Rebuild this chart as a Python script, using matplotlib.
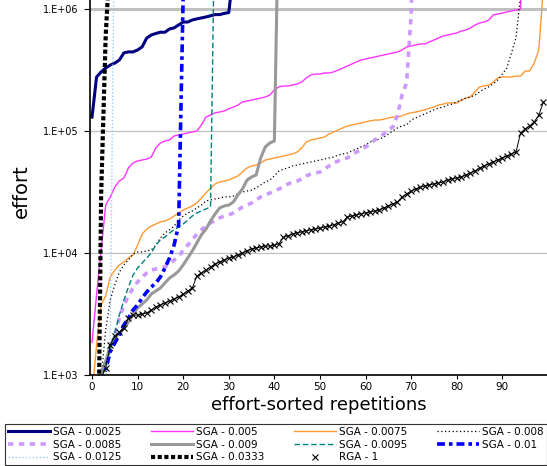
import numpy as np
import matplotlib
matplotlib.use("Agg")
import matplotlib.pyplot as plt
from matplotlib.lines import Line2D

# effort per repetition, sorted; a huge last value means the run went off the top
sga_0025 = [1.30e5, 2.77e5, 3.05e5, 3.28e5, 3.47e5, 3.60e5, 3.82e5, 4.37e5, 4.45e5, 4.45e5,
            4.61e5, 4.90e5, 5.78e5, 6.12e5, 6.30e5, 6.45e5, 6.45e5, 6.86e5, 7.00e5, 7.40e5,
            7.82e5, 7.82e5, 8.13e5, 8.30e5, 8.45e5, 8.60e5, 8.80e5, 9.00e5, 9.00e5, 9.20e5,
            9.35e5, 2.0e6]

sga_005 = [1.86e3, 4.53e3, 1.06e4, 2.47e4, 2.88e4, 3.47e4, 3.89e4, 4.12e4, 4.98e4, 5.47e4,
           5.68e4, 5.78e4, 5.89e4, 6.12e4, 7.26e4, 7.98e4, 8.28e4, 8.44e4, 9.10e4, 9.27e4,
           9.45e4, 9.63e4, 9.82e4, 1.00e5, 1.12e5, 1.30e5, 1.35e5, 1.41e5, 1.43e5, 1.46e5,
           1.52e5, 1.57e5, 1.63e5, 1.73e5, 1.76e5, 1.79e5, 1.83e5, 1.86e5, 1.90e5, 1.97e5,
           2.17e5, 2.30e5, 2.34e5, 2.34e5, 2.38e5, 2.43e5, 2.52e5, 2.72e5, 2.88e5, 2.93e5,
           2.93e5, 2.99e5, 2.99e5, 3.05e5, 3.16e5, 3.28e5, 3.41e5, 3.54e5, 3.68e5, 3.82e5,
           3.89e5, 3.97e5, 4.04e5, 4.12e5, 4.20e5, 4.28e5, 4.36e5, 4.44e5, 4.61e5, 4.88e5,
           4.98e5, 5.07e5, 5.17e5, 5.17e5, 5.37e5, 5.57e5, 5.79e5, 6.01e5, 6.12e5, 6.24e5,
           6.36e5, 6.60e5, 6.73e5, 6.99e5, 7.39e5, 7.68e5, 7.82e5, 8.12e5, 8.93e5, 9.10e5,
           9.27e5, 9.45e5, 9.63e5, 9.82e5, 1.0e6, 1e8]

sga_0075 = [6.85e2, 1.76e3, 3.75e3, 4.44e3, 6.36e3, 7.26e3, 7.98e3, 8.44e3, 9.10e3, 9.63e3,
            1.16e4, 1.43e4, 1.57e4, 1.66e4, 1.73e4, 1.80e4, 1.83e4, 1.90e4, 2.01e4, 2.13e4,
            2.25e4, 2.34e4, 2.43e4, 2.57e4, 2.82e4, 3.10e4, 3.41e4, 3.68e4, 3.82e4, 3.89e4,
            3.96e4, 4.12e4, 4.28e4, 4.61e4, 4.98e4, 5.17e4, 5.26e4, 5.47e4, 5.78e4, 5.89e4,
            6.01e4, 6.12e4, 6.24e4, 6.36e4, 6.48e4, 6.73e4, 7.26e4, 8.13e4, 8.44e4, 8.60e4,
            8.77e4, 8.93e4, 9.45e4, 9.82e4, 1.02e5, 1.06e5, 1.10e5, 1.12e5, 1.14e5, 1.16e5,
            1.19e5, 1.21e5, 1.23e5, 1.23e5, 1.25e5, 1.28e5, 1.30e5, 1.30e5, 1.33e5, 1.38e5,
            1.41e5, 1.43e5, 1.46e5, 1.49e5, 1.54e5, 1.57e5, 1.63e5, 1.66e5, 1.70e5, 1.70e5,
            1.70e5, 1.79e5, 1.86e5, 1.90e5, 2.09e5, 2.30e5, 2.34e5, 2.38e5, 2.52e5, 2.72e5,
            2.77e5, 2.77e5, 2.77e5, 2.82e5, 2.82e5, 3.10e5, 3.10e5, 3.61e5, 4.61e5, 1.5e6]

sga_008 = [2.5e2, 4.28e2, 9.45e2, 2.34e3, 4.12e3, 5.47e3, 6.98e3, 7.98e3, 8.77e3, 9.82e3,
           1.02e4, 1.02e4, 1.04e4, 1.06e4, 1.16e4, 1.33e4, 1.46e4, 1.55e4, 1.66e4, 1.86e4,
           2.01e4, 2.13e4, 2.21e4, 2.34e4, 2.47e4, 2.67e4, 2.72e4, 2.77e4, 2.82e4, 2.88e4,
           2.88e4, 2.93e4, 3.05e4, 3.16e4, 3.22e4, 3.28e4, 3.41e4, 3.61e4, 3.82e4, 3.96e4,
           4.28e4, 4.70e4, 4.88e4, 4.98e4, 5.17e4, 5.26e4, 5.37e4, 5.47e4, 5.57e4, 5.68e4,
           5.78e4, 5.89e4, 6.01e4, 6.12e4, 6.36e4, 6.48e4, 6.60e4, 6.86e4, 7.12e4, 7.39e4,
           7.68e4, 8.13e4, 8.28e4, 8.60e4, 8.93e4, 9.45e4, 1.00e5, 1.06e5, 1.10e5, 1.12e5,
           1.23e5, 1.28e5, 1.33e5, 1.38e5, 1.43e5, 1.49e5, 1.54e5, 1.57e5, 1.63e5, 1.66e5,
           1.73e5, 1.79e5, 1.86e5, 1.90e5, 1.97e5, 2.09e5, 2.21e5, 2.30e5, 2.43e5, 2.62e5,
           2.93e5, 3.28e5, 4.36e5, 5.78e5, 1.3e6]

sga_0085 = [3e2, 6e2, 1.06e3, 1.28e3, 1.60e3, 2.13e3, 2.93e3, 3.75e3, 4.44e3, 5.17e3,
            5.78e3, 6.36e3, 6.86e3, 7.26e3, 7.39e3, 7.54e3, 7.68e3, 8.13e3, 8.77e3, 9.27e3,
            1.06e4, 1.16e4, 1.28e4, 1.43e4, 1.55e4, 1.66e4, 1.76e4, 1.86e4, 1.94e4, 2.01e4,
            2.05e4, 2.13e4, 2.25e4, 2.38e4, 2.47e4, 2.57e4, 2.72e4, 2.88e4, 2.99e4, 3.10e4,
            3.22e4, 3.35e4, 3.47e4, 3.68e4, 3.82e4, 3.89e4, 4.04e4, 4.28e4, 4.44e4, 4.53e4,
            4.61e4, 4.88e4, 5.17e4, 5.47e4, 5.68e4, 5.89e4, 6.01e4, 6.36e4, 6.73e4, 6.98e4,
            7.39e4, 7.82e4, 8.44e4, 8.93e4, 9.45e4, 1.02e5, 1.08e5, 1.35e5, 1.97e5, 2.47e5,
            8.93e5, 1e8]

sga_009 = [5e2, 6.85e2, 1.06e3, 1.28e3, 1.76e3, 2.05e3, 2.17e3, 2.43e3, 2.72e3, 3.16e3,
           3.54e3, 3.82e3, 4.12e3, 4.61e3, 4.88e3, 5.17e3, 5.68e3, 6.24e3, 6.60e3, 7.12e3,
           7.98e3, 9.10e3, 1.04e4, 1.21e4, 1.41e4, 1.57e4, 1.83e4, 2.09e4, 2.34e4, 2.43e4,
           2.47e4, 2.62e4, 2.99e4, 3.35e4, 3.96e4, 4.20e4, 4.36e4, 6.01e4, 7.39e4, 7.98e4,
           8.28e4, 1e7]

sga_0095 = [3e2, 6e2, 9.10e2, 1.21e3, 1.60e3, 2.21e3, 3.10e3, 4.12e3, 5.26e3, 6.60e3,
            7.54e3, 8.28e3, 9.10e3, 1.00e4, 1.16e4, 1.28e4, 1.35e4, 1.46e4, 1.55e4, 1.63e4,
            1.73e4, 1.86e4, 2.01e4, 2.13e4, 2.21e4, 2.30e4, 2.38e4, 1e7]

sga_01 = [2e2, 4e2, 7.98e2, 1.10e3, 1.55e3, 1.83e3, 2.13e3, 2.57e3, 2.93e3, 3.41e3,
          3.75e3, 4.28e3, 4.79e3, 5.26e3, 5.68e3, 6.36e3, 7.54e3, 9.10e3, 1.16e4, 1.70e4,
          1.3e6]

sga_0125 = [3e2, 5e2, 8e2, 1.0e3, 2.13e3, 1e7]

sga_0333 = [10, 10, 3.0e4, 6.0e5, 3.0e6]

rga_1 = [4.28e2, 6.24e2, 9.45e2, 1.14e3, 1.76e3, 2.09e3, 2.25e3, 2.43e3, 2.93e3, 3.10e3,
         3.10e3, 3.16e3, 3.22e3, 3.41e3, 3.61e3, 3.75e3, 3.89e3, 4.04e3, 4.20e3, 4.36e3,
         4.61e3, 4.88e3, 5.17e3, 6.48e3, 6.86e3, 7.26e3, 7.68e3, 8.13e3, 8.44e3, 8.77e3,
         9.10e3, 9.27e3, 9.63e3, 1.00e4, 1.04e4, 1.08e4, 1.10e4, 1.12e4, 1.14e4, 1.14e4,
         1.16e4, 1.19e4, 1.35e4, 1.38e4, 1.43e4, 1.46e4, 1.49e4, 1.52e4, 1.55e4, 1.57e4,
         1.60e4, 1.63e4, 1.66e4, 1.70e4, 1.76e4, 1.80e4, 1.97e4, 2.01e4, 2.05e4, 2.09e4,
         2.13e4, 2.17e4, 2.21e4, 2.25e4, 2.34e4, 2.43e4, 2.52e4, 2.62e4, 2.88e4, 3.05e4,
         3.22e4, 3.35e4, 3.47e4, 3.54e4, 3.61e4, 3.68e4, 3.75e4, 3.82e4, 3.96e4, 4.04e4,
         4.12e4, 4.20e4, 4.36e4, 4.53e4, 4.70e4, 4.98e4, 5.17e4, 5.37e4, 5.57e4, 5.78e4,
         6.01e4, 6.24e4, 6.48e4, 6.73e4, 9.63e4, 1.04e5, 1.10e5, 1.19e5, 1.35e5, 1.73e5]

y_ticks = [1e3, 1e4, 1e5, 1e6]
y_tick_labels = ["1.E+03", "1.E+04", "1.E+05", "1.E+06"]
x_ticks = [0, 10, 20, 30, 40, 50, 60, 70, 80, 90]

fig = plt.figure(figsize=(5.47, 4.66), dpi=100)
ax = fig.add_axes([90 / 547, 91 / 466, 457 / 547, 375 / 466])

# series, label, style
series = [
    (sga_0025, "SGA - 0.0025", dict(color="#000080", lw=2.2)),
    (sga_005, "SGA - 0.005", dict(color="#ff33ff", lw=1.0)),
    (sga_0075, "SGA - 0.0075", dict(color="#ff9933", lw=1.0)),
    (sga_008, "SGA - 0.008", dict(color="black", lw=0.9, ls=(0, (1, 2)))),
    (sga_0085, "SGA - 0.0085", dict(color="#cc99ff", lw=2.6, ls=(0, (1.5, 1.5)))),
    (sga_009, "SGA - 0.009", dict(color="#999999", lw=2.2)),
    (sga_0095, "SGA - 0.0095", dict(color="#008080", lw=1.0, ls=(0, (4, 2)))),
    (sga_01, "SGA - 0.01", dict(color="#0000ff", lw=2.6, ls=(0, (2.2, 1.1, 1, 1.1)))),
    (sga_0125, "SGA - 0.0125", dict(color="#99ccff", lw=1.0, ls=(0, (1, 1.5)))),
    (sga_0333, "SGA - 0.0333", dict(color="black", lw=3.0, ls=(0, (1, 0.6)))),
]

handles = {}
for vals, name, style in series:
    line, = ax.plot(np.arange(len(vals)), vals, **style)
    handles[name] = line

ax.plot(np.arange(len(rga_1)), rga_1, color="black", lw=0.7,
        marker="x", markersize=4, markeredgewidth=0.8)
handles["RGA - 1"] = Line2D([], [], color="black", ls="none", marker="x",
                            markersize=4, markeredgewidth=0.8)

ax.set_yscale("log")
ax.set_ylim(1e3, 1.185e6)
ax.set_xlim(-0.44, 99.8)

# grid lines
for g in [1e4, 1e5]:
    ax.axhline(g, color="#c0c0c0", lw=0.9, zorder=0)
ax.axhline(1e6, color="#c0c0c0", lw=2.2, zorder=0)

ax.set_yticks(y_ticks)
ax.set_yticklabels(y_tick_labels)
ax.yaxis.set_minor_locator(matplotlib.ticker.NullLocator())
ax.set_xticks(x_ticks)
ax.tick_params(axis="y", length=4, width=0.8, pad=4, labelsize=7)
ax.tick_params(axis="x", length=3, width=0.8, pad=2, labelsize=7.5)

for s in ["top", "right"]:
    ax.spines[s].set_visible(False)
ax.spines["left"].set_linewidth(1.2)
ax.spines["bottom"].set_linewidth(1.2)

ax.set_xlabel("effort-sorted repetitions", fontsize=13)
ax.xaxis.set_label_coords(0.5, -0.055)
ax.set_ylabel("effort", fontsize=14)
ax.yaxis.set_label_coords(-0.13, 0.49)

# legend: matplotlib fills column by column
order = ["SGA - 0.0025", "SGA - 0.0085", "SGA - 0.0125",
         "SGA - 0.005", "SGA - 0.009", "SGA - 0.0333",
         "SGA - 0.0075", "SGA - 0.0095", "RGA - 1",
         "SGA - 0.008", "SGA - 0.01"]
leg = fig.legend([handles[k] for k in order], order, ncol=4,
                 loc="upper left", bbox_to_anchor=(5 / 547, 4 / 466, 542 / 547, 38 / 466),
                 mode="expand", fontsize=7.5, handlelength=4, handletextpad=0.3,
                 labelspacing=0.25, borderpad=0.3, columnspacing=1.0,
                 frameon=True, fancybox=False, borderaxespad=0)
leg.get_frame().set_edgecolor("black")
leg.get_frame().set_linewidth(0.8)

fig.savefig("out.png", dpi=100)
